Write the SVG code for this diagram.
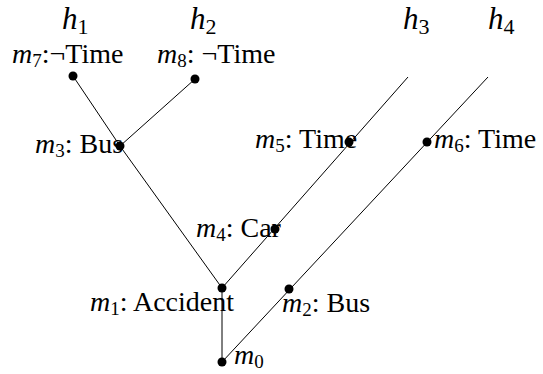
<svg xmlns="http://www.w3.org/2000/svg" width="543" height="374" viewBox="0 0 543 374">
<style>
text{font-family:"Liberation Serif","DejaVu Serif",serif;fill:#000;}
.lbl{font-size:28px;}
.hl{font-size:31px;}
.it{font-style:italic;}
.sub{font-size:19px;}
.hsub{font-size:22px;}
.edge{stroke:#000;stroke-width:1;fill:none;}
.dot{fill:#000;}
</style>
<rect width="543" height="374" fill="#fff"/>
<g id="connectors">
<line class="edge" x1="73" y1="76" x2="120" y2="146"/>
<line class="edge" x1="120" y1="146" x2="222" y2="288"/>
<line class="edge" x1="195" y1="79" x2="120" y2="146"/>
<line class="edge" x1="408" y1="77" x2="222" y2="288"/>
<line class="edge" x1="488" y1="77" x2="222" y2="362"/>
<line class="edge" x1="222" y1="288" x2="222" y2="362"/>
</g>
<g id="h1"><text class="hl" x="62" y="29"><tspan class="it">h</tspan><tspan class="hsub" dy="5">1</tspan></text></g>
<g id="h2"><text class="hl" x="190" y="29"><tspan class="it">h</tspan><tspan class="hsub" dy="5">2</tspan></text></g>
<g id="h3"><text class="hl" x="403" y="29"><tspan class="it">h</tspan><tspan class="hsub" dy="5">3</tspan></text></g>
<g id="h4"><text class="hl" x="488" y="29"><tspan class="it">h</tspan><tspan class="hsub" dy="5">4</tspan></text></g>
<g id="m7"><circle class="dot" cx="73" cy="76" r="4.5"/><text class="lbl" x="12" y="63"><tspan class="it">m</tspan><tspan class="sub" dy="4">7</tspan><tspan dy="-4">:¬Time</tspan></text></g>
<g id="m8"><circle class="dot" cx="195" cy="79" r="4.5"/><text class="lbl" x="157" y="63"><tspan class="it">m</tspan><tspan class="sub" dy="4">8</tspan><tspan dy="-4">: ¬Time</tspan></text></g>
<g id="m3"><circle class="dot" cx="120" cy="146" r="4.5"/><text class="lbl" x="35" y="153"><tspan class="it">m</tspan><tspan class="sub" dy="4">3</tspan><tspan dy="-4">: Bus</tspan></text></g>
<g id="m5"><circle class="dot" cx="349" cy="142" r="4.5"/><text class="lbl" x="255" y="148"><tspan class="it">m</tspan><tspan class="sub" dy="4">5</tspan><tspan dy="-4">: Time</tspan></text></g>
<g id="m6"><circle class="dot" cx="427" cy="142" r="4.5"/><text class="lbl" x="434" y="148"><tspan class="it">m</tspan><tspan class="sub" dy="4">6</tspan><tspan dy="-4">: Time</tspan></text></g>
<g id="m4"><circle class="dot" cx="275" cy="229" r="4.5"/><text class="lbl" x="196" y="237"><tspan class="it">m</tspan><tspan class="sub" dy="4">4</tspan><tspan dy="-4">: Car</tspan></text></g>
<g id="m1"><circle class="dot" cx="222" cy="288" r="4.5"/><text class="lbl" x="90" y="311"><tspan class="it">m</tspan><tspan class="sub" dy="4">1</tspan><tspan dy="-4">: Accident</tspan></text></g>
<g id="m2"><circle class="dot" cx="289" cy="289" r="4.5"/><text class="lbl" x="282" y="312"><tspan class="it">m</tspan><tspan class="sub" dy="4">2</tspan><tspan dy="-4">: Bus</tspan></text></g>
<g id="m0"><circle class="dot" cx="222" cy="362" r="4.5"/><text class="lbl" x="234" y="364"><tspan class="it">m</tspan><tspan class="sub" dy="4">0</tspan></text></g>
</svg>
